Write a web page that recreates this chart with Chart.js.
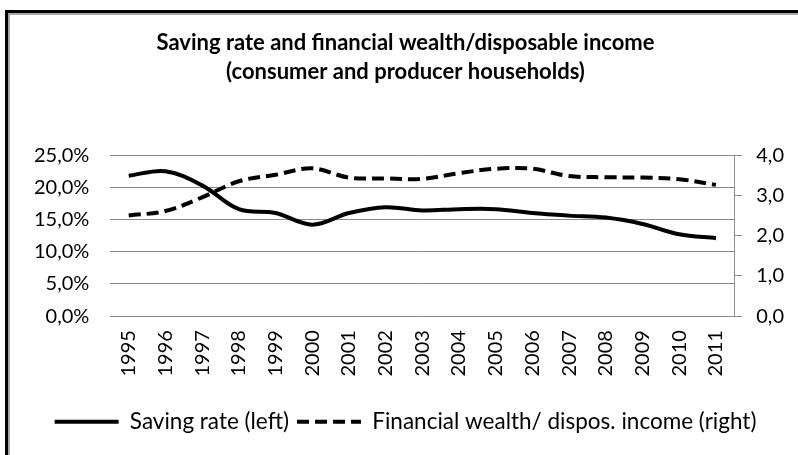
<!DOCTYPE html>
<html lang="en">
<head>
    <meta charset="UTF-8">
    <title>Saving rate and financial wealth</title>
    <script src="https://cdn.jsdelivr.net/npm/chart.js"></script>
    <style>
        body {
            margin: 0;
            background: #fff;
        }
        .wrap {
            position: relative;
            width: 798px;
            height: 455px;
            overflow: hidden;
        }
        /* рамка слева и сверху, как в исходной картинке */
        .frame {
            position: absolute;
            left: 5px;
            top: 10px;
            width: 820px;
            height: 480px;
            border-top: 3px solid #000;
            border-left: 3px solid #000;
        }
        .frame-inner {
            width: 100%;
            height: 100%;
            border-top: 2px solid #a8a8a8;
            border-left: 2px solid #a8a8a8;
        }
        canvas {
            position: absolute;
            left: 0;
            top: 0;
        }
    </style>
</head>
<body>
    <div class="wrap">
        <div class="frame"><div class="frame-inner"></div></div>
        <canvas id="chart" width="798" height="455"></canvas>
    </div>

    <script>
        const years = ['1995', '1996', '1997', '1998', '1999', '2000', '2001', '2002', '2003',
                       '2004', '2005', '2006', '2007', '2008', '2009', '2010', '2011'];
        const savingRate = [21.8, 22.5, 20.3, 16.6, 16.0, 14.2, 16.0, 16.9, 16.4,
                            16.6, 16.6, 16.0, 15.6, 15.3, 14.3, 12.7, 12.1];
        const wealthIncome = [2.50, 2.61, 2.95, 3.35, 3.51, 3.67, 3.44, 3.42, 3.41,
                              3.55, 3.66, 3.66, 3.48, 3.45, 3.44, 3.40, 3.26];
        const titleLines = ['Saving rate and financial wealth/disposable income',
                            '(consumer and producer households)'];
        const seriesNames = ['Saving rate (left)', 'Financial wealth/ dispos. income (right)'];

        const fontFamily = 'Lato, "Open Sans", sans-serif';
        const gridColor = '#8a8a8a';

        const comma = (v, d) => v.toFixed(d).replace('.', ',');

        const ctx = document.getElementById('chart').getContext('2d');
        new Chart(ctx, {
            type: 'line',
            data: {
                labels: years,
                datasets: [{
                    label: seriesNames[0],
                    data: savingRate,
                    yAxisID: 'y',
                    borderColor: '#000',
                    backgroundColor: '#000',
                    borderWidth: 4,
                    pointRadius: 0,
                    tension: 0.35,
                    fill: false
                }, {
                    label: seriesNames[1],
                    data: wealthIncome,
                    yAxisID: 'y1',
                    borderColor: '#000',
                    backgroundColor: '#000',
                    borderWidth: 4,
                    borderDash: [12, 6],
                    pointRadius: 0,
                    tension: 0.35,
                    fill: false
                }]
            },
            options: {
                responsive: false,
                animation: false,
                layout: {
                    padding: { top: 14, left: 13, right: 0, bottom: 12 }
                },
                plugins: {
                    title: {
                        display: true,
                        text: titleLines,
                        color: '#000',
                        font: { family: fontFamily, size: 22, weight: 'bold', lineHeight: 1.32 },
                        padding: { top: 14, bottom: 69 }
                    },
                    legend: {
                        position: 'bottom',
                        labels: {
                            color: '#000',
                            font: { family: fontFamily, size: 22.5 },
                            usePointStyle: true,
                            pointStyle: 'line',
                            pointStyleWidth: 64,
                            padding: 8,
                            // пунктир в легенде берём из датасета
                            generateLabels(chart) {
                                const items = Chart.defaults.plugins.legend.labels.generateLabels(chart);
                                items.forEach((it, i) => {
                                    it.lineDash = chart.data.datasets[i].borderDash || [];
                                    it.lineWidth = 4;
                                    it.strokeStyle = '#000';
                                });
                                return items;
                            }
                        }
                    },
                    tooltip: { enabled: false }
                },
                scales: {
                    x: {
                        offset: true,
                        grid: { display: false, drawTicks: false },
                        border: { display: false },
                        afterFit(scale) {
                            scale.height += 12;
                        },
                        ticks: {
                            color: '#000',
                            font: { family: fontFamily, size: 20 },
                            minRotation: 90,
                            maxRotation: 90,
                            padding: 14
                        }
                    },
                    y: {
                        position: 'left',
                        min: 0,
                        max: 25,
                        grid: { color: gridColor, lineWidth: 1, drawTicks: false },
                        border: { display: false },
                        ticks: {
                            stepSize: 5,
                            color: '#000',
                            font: { family: fontFamily, size: 20 },
                            padding: 21,
                            callback: v => comma(v, 1) + '%'
                        }
                    },
                    y1: {
                        position: 'right',
                        min: 0,
                        max: 4,
                        grid: { drawOnChartArea: false, color: gridColor, tickLength: 8 },
                        border: { display: true, color: gridColor },
                        ticks: {
                            stepSize: 1,
                            color: '#000',
                            font: { family: fontFamily, size: 20 },
                            padding: 14,
                            callback: v => comma(v, 1)
                        }
                    }
                }
            }
        });
    </script>
</body>
</html>
